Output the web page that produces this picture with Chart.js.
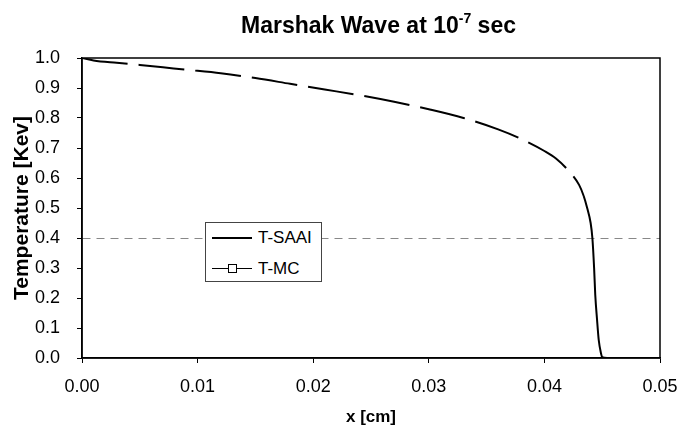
<!DOCTYPE html>
<html lang="en">
<head>
  <meta charset="UTF-8">
  <title>Marshak Wave</title>
  <script src="https://cdn.jsdelivr.net/npm/chart.js"></script>
  <style>
    body {
      margin: 0;
      background: #fff;
      font-family: "Liberation Sans", Arial, sans-serif;
    }
    .wrap {
      position: relative;
      width: 682px;
      height: 436px;
    }
    .title {
      position: absolute;
      left: 241px;
      top: 12px;
      font-size: 23px;
      line-height: 26px;
      font-weight: bold;
      white-space: nowrap;
    }
    .title sup {
      font-size: 14px;
      vertical-align: baseline;
      position: relative;
      top: -10px;
    }
    .legend {
      position: absolute;
      left: 205px;
      top: 222px;
      width: 115px;
      height: 58px;
      border: 1px solid #444;
      background: #fff;
      font-size: 17px;
    }
    .legend-item {
      position: absolute;
      left: 6px;
      width: 105px;
      height: 20px;
      line-height: 20px;
      white-space: nowrap;
    }
    .legend-line {
      position: absolute;
      left: 0;
      top: 9px;
      width: 40px;
      height: 2px;
      background: #000;
    }
    .legend-box {
      position: absolute;
      left: 16px;
      top: 5px;
      width: 7px;
      height: 7px;
      border: 1px solid #000;
      background: #fff;
    }
    .legend-text {
      position: absolute;
      left: 46px;
      top: 0;
    }
  </style>
</head>
<body>

  <div class="wrap">
    <canvas id="waveChart"></canvas>
    <div class="title">Marshak Wave at 10<sup>-7</sup> sec</div>
    <div class="legend">
      <div class="legend-item" style="top: 5px;">
        <div class="legend-line"></div>
        <span class="legend-text">T-SAAI</span>
      </div>
      <div class="legend-item" style="top: 36px;">
        <div class="legend-line" style="height: 1px;"></div>
        <div class="legend-box"></div>
        <span class="legend-text">T-MC</span>
      </div>
    </div>
  </div>

  <script>
    // x positions [cm] and temperatures [keV]
    const xCm = [0, 0.001, 0.003, 0.005, 0.007, 0.009, 0.012, 0.015, 0.018, 0.021,
                 0.024, 0.027, 0.030, 0.033, 0.036, 0.038, 0.040, 0.041, 0.042, 0.043,
                 0.0434, 0.0437, 0.0440, 0.04415, 0.0443, 0.0444, 0.04455, 0.0447, 0.0449,
                 0.045, 0.046, 0.048, 0.05];
    const tSaai = [1.0, 0.992, 0.984, 0.977, 0.969, 0.961, 0.949, 0.933, 0.914, 0.895,
                   0.876, 0.854, 0.829, 0.800, 0.762, 0.730, 0.690, 0.665, 0.628, 0.577,
                   0.540, 0.500, 0.450, 0.400, 0.300, 0.210, 0.130, 0.060, 0.015,
                   0.003, 0, 0, 0];

    const xTicks = [0, 0.01, 0.02, 0.03, 0.04, 0.05];
    const yTicks = [0, 0.1, 0.2, 0.3, 0.4, 0.5, 0.6, 0.7, 0.8, 0.9, 1.0];

    const points = xCm.map((x, i) => ({ x: x, y: tSaai[i] }));

    // box around the plot area
    const frame = {
      id: 'frame',
      afterDraw(chart) {
        const a = chart.chartArea;
        const c = chart.ctx;
        c.save();
        c.strokeStyle = '#000';
        c.lineWidth = 1.5;
        c.strokeRect(a.left, a.top, a.right - a.left, a.bottom - a.top);
        c.restore();
      }
    };

    const ctx = document.getElementById('waveChart').getContext('2d');
    new Chart(ctx, {
      type: 'line',
      data: {
        datasets: [{
          label: 'T-SAAI',
          data: points,
          borderColor: '#000',
          borderWidth: 2,
          pointRadius: 0,
          cubicInterpolationMode: 'monotone',
          segment: {
            borderDash: c => c.p0.parsed.x < 0.0434 ? [46, 11] : undefined
          }
        }]
      },
      options: {
        responsive: true,
        maintainAspectRatio: false,
        animation: false,
        layout: { padding: { top: 58, right: 22, left: 0, bottom: 0 } },
        plugins: {
          legend: { display: false },
          tooltip: { enabled: false }
        },
        scales: {
          x: {
            type: 'linear',
            min: 0,
            max: 0.05,
            afterBuildTicks: s => { s.ticks = xTicks.map(v => ({ value: v })); },
            afterFit: s => { s.height = 78; s.paddingLeft = 0; s.paddingRight = 0; },
            ticks: {
              color: '#000',
              font: { family: 'Liberation Sans', size: 18 },
              padding: 13,
              maxRotation: 0,
              callback: v => v.toFixed(2)
            },
            grid: { color: 'transparent', tickColor: '#000', tickLength: 5 },
            border: { color: '#000', width: 1.5 },
            title: {
              display: true,
              text: 'x [cm]',
              color: '#000',
              font: { family: 'Liberation Sans', size: 17, weight: 'bold' },
              padding: { top: 0, bottom: 8 }
            }
          },
          y: {
            min: 0,
            max: 1,
            afterBuildTicks: s => { s.ticks = yTicks.map(v => ({ value: v })); },
            afterFit: s => { s.width = 82; },
            ticks: {
              color: '#000',
              font: { family: 'Liberation Sans', size: 18 },
              padding: 17,
              callback: v => v.toFixed(1)
            },
            grid: {
              color: c => (c.tick && Math.abs(c.tick.value - 0.4) < 1e-9) ? '#888' : 'transparent',
              lineWidth: 1,
              tickColor: '#000',
              tickLength: 5
            },
            border: { color: '#000', width: 1.5, dash: [8, 6] },
            title: {
              display: true,
              text: 'Temperature [Kev]',
              color: '#000',
              font: { family: 'Liberation Sans', size: 21, weight: 'bold' },
              padding: { top: 10, bottom: 0 }
            }
          }
        }
      },
      plugins: [frame]
    });
  </script>

</body>
</html>
